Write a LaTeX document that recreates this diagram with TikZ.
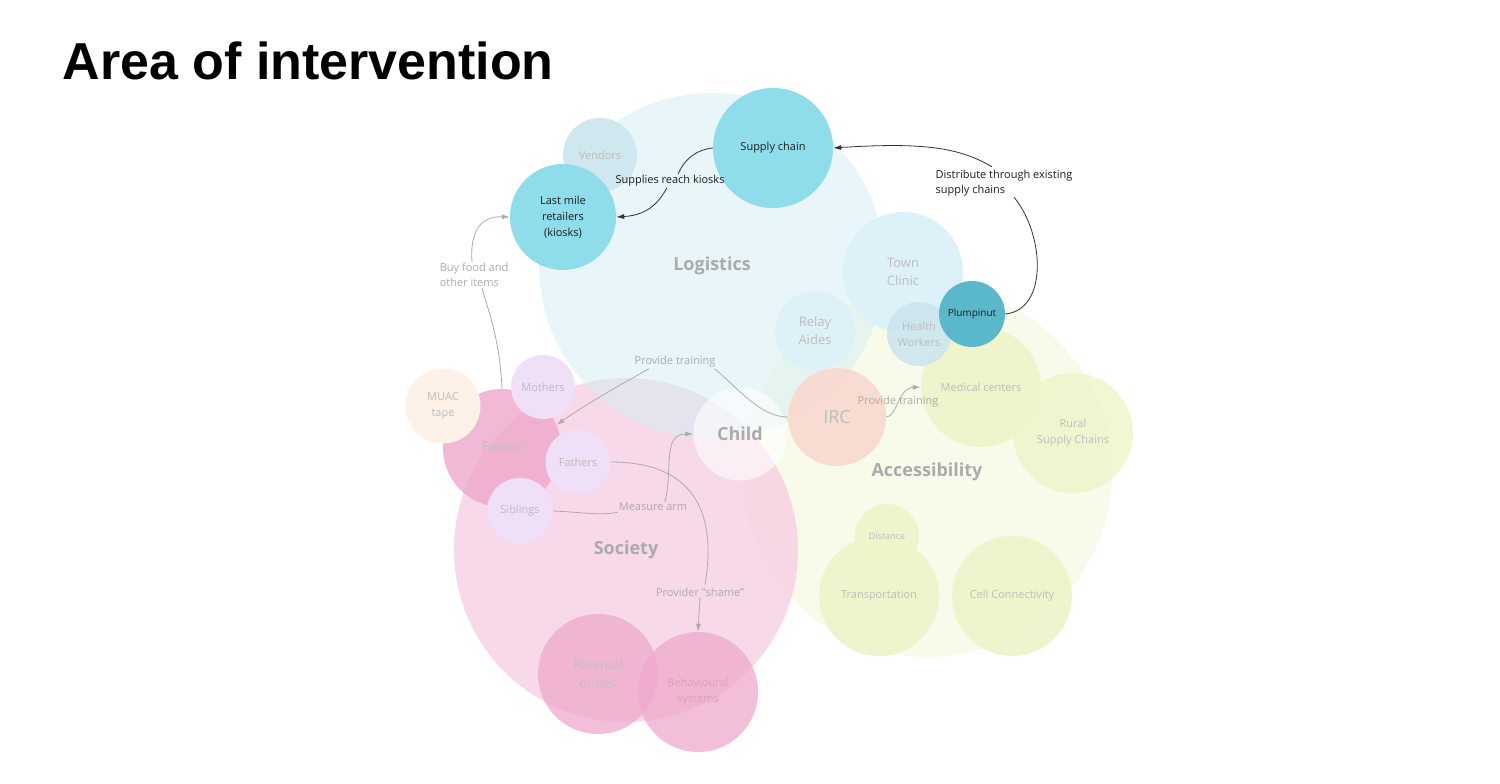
\documentclass[tikz,border=0pt]{standalone}
\usepackage{fontspec}
\setmainfont{Open Sans}
\newfontfamily\titlefont{Liberation Sans}
\usetikzlibrary{arrows.meta}
\definecolor{logfill}{HTML}{D3EFF5}
\definecolor{socfill}{HTML}{F5CDE2}
\definecolor{accfill}{HTML}{F9FBEA}
\definecolor{cyanc}{HTML}{8FDCEB}
\definecolor{vendc}{HTML}{CFE7EE}
\definecolor{palec}{HTML}{DCF2F8}
\definecolor{healthc}{HTML}{CDE6EE}
\definecolor{plumc}{HTML}{5BB7CA}
\definecolor{lavc}{HTML}{EFDFF7}
\definecolor{muacc}{HTML}{FDF1E8}
\definecolor{famc}{HTML}{EFA8CC}
\definecolor{ircc}{HTML}{F9D9CF}
\definecolor{greenc}{HTML}{EDF5C9}
\definecolor{pinkc}{HTML}{EFA9CD}
\definecolor{fadetext}{HTML}{BDBDBD}
\definecolor{bigtext}{HTML}{ABABAB}
\definecolor{labtext}{HTML}{ABABAB}
\definecolor{darktext}{HTML}{1E1E1E}
\definecolor{darkline}{HTML}{333333}
\definecolor{faintline}{HTML}{ACACAC}
\begin{document}
\begin{tikzpicture}[x=1pt,y=-1pt,
  bub/.style={circle, inner sep=0pt, align=center, font=\fontsize{11}{16}\selectfont, text=fadetext},
  big/.style={bub, font=\bfseries\fontsize{18}{22}\selectfont, text=bigtext},
  lab/.style={inner sep=1pt, align=left, font=\fontsize{11}{15}\selectfont, text=labtext},
  darklab/.style={lab, text=darktext},
  dark/.style={draw=darkline, line width=0.8pt},
  faint/.style={draw=faintline, line width=0.8pt},
  tip/.style={-{Latex[length=8pt,width=5pt]}}
]
\useasboundingbox[fill=white] (0,0) rectangle (1500,784);
\node[anchor=base west, font=\titlefont\bfseries\fontsize{52}{60}\selectfont] (title) at (59,80) {Area of intervention};

% big areas
\node[big, minimum size=370, fill=accfill] (acc) at (927,472) {Accessibility};
\node[big, minimum size=344, fill=socfill, fill opacity=0.75, text opacity=1] (soc) at (626,550) {Society};
\node[big, minimum size=346, fill=logfill, fill opacity=0.5, text opacity=1] (log) at (712,266) {Logistics};

% logistics
\node[bub, minimum size=74, fill=vendc] (vend) at (600,155) {Vendors};
\node[bub, minimum size=106, fill=cyanc, text=darktext] (lm) at (563,217) {Last mile\\retailers\\(kiosks)};
\node[bub, minimum size=120, fill=cyanc, text=darktext] (sc) at (773,148) {Supply chain};
\node[bub, minimum size=120, fill=palec, font=\fontsize{13}{18}\selectfont] (town) at (903,272) {Town\\Clinic};
\node[bub, minimum size=80, fill=palec, fill opacity=0.85, text opacity=1, font=\fontsize{13}{18}\selectfont] (relay) at (815,331) {Relay\\Aides};

% accessibility
\node[bub, minimum size=120, fill=greenc, fill opacity=0.9, text opacity=1] (med) at (981,387) {Medical centers};
\node[bub, minimum size=120, fill=greenc, fill opacity=0.8, text opacity=1] (rural) at (1073,433) {Rural\\Supply Chains};
\node[bub, minimum size=120, fill=greenc, fill opacity=0.9, text opacity=1] (trans) at (879,596) {Transportation};
\node[bub, minimum size=64, fill=greenc, fill opacity=0.85, text opacity=1, font=\fontsize{9}{11}\selectfont] (dist) at (887,536) {Distance};
\node[bub, minimum size=120, fill=greenc, fill opacity=0.9, text opacity=1] (cell) at (1012,596) {Cell Connectivity};

\node[bub, minimum size=64, fill=healthc, fill opacity=0.95, text opacity=1] (hw) at (919,334) {Health\\Workers};
\node[bub, minimum size=66, fill=plumc, text=darktext, font=\fontsize{10}{12}\selectfont] (pl) at (972,314) {Plumpinut};

% society
\node[bub, minimum size=118, fill=famc, fill opacity=0.8, text opacity=1, font=\fontsize{13}{18}\selectfont, text=fadetext!90!pink] (fam) at (502,448) {Family};
\node[bub, minimum size=75, fill=muacc] (muac) at (443,406) {MUAC\\tape};
\node[bub, minimum size=64, fill=lavc] (moth) at (543,387) {Mothers};
\node[bub, minimum size=65, fill=lavc] (fa) at (578,462) {Fathers};
\node[bub, minimum size=66, fill=lavc] (sib) at (520,511) {Siblings};
\node[bub, minimum size=120, fill=pinkc, fill opacity=0.75, text opacity=1, font=\fontsize{13}{18}\selectfont, text=fadetext!80!pink] (par) at (598,674) {Parental\\duties};
\node[bub, minimum size=120, fill=pinkc, fill opacity=0.75, text opacity=1, text=pinkc!80!gray] (beh) at (698,692) {Behavioural\\systems};

% center
\node[big, minimum size=93, fill=white, fill opacity=0.6, text opacity=1] (child) at (740,434) {Child};
\node[bub, minimum size=98, fill=ircc, fill opacity=0.9, text opacity=1, font=\fontsize{18}{22}\selectfont] (irc) at (837,417) {IRC};

% labels
\node[darklab] (srk) at (670,181) {Supplies reach kiosks};
\node[darklab] (distl) at (1004,183) {Distribute through existing\\supply chains};
\node[lab] (bf) at (474,275) {Buy food and\\other items};
\node[lab] (pt1) at (675,362) {Provide training};
\node[lab] (pt2) at (898,402) {Provide training};
\node[lab] (ma) at (653,507) {Measure arm};
\node[lab] (ps) at (700,592) {Provider "shame"};

% connectors
\draw[dark] (sc.west) .. controls (695,150) and (684,160) .. ([xshift=8pt]srk.north);
\draw[dark,tip] ([xshift=-3pt]srk.south) .. controls (660,200) and (650,215) .. (lm.east);
\draw[dark] (pl.east) .. controls (1048,310) and (1045,235) .. ([xshift=10pt]distl.south);
\draw[dark,tip] ([xshift=-12pt,yshift=2pt]distl.north) .. controls (960,148) and (925,142) .. (sc.east);
\draw[faint] (fam.north) .. controls (500,340) and (488,310) .. ([xshift=8pt]bf.south);
\draw[faint,tip] ([xshift=-2pt]bf.north) .. controls (470,235) and (478,216) .. (lm.west);
\draw[faint] (irc.west) .. controls (760,417) and (738,388) .. ([xshift=-2pt]pt1.south east);
\draw[faint,tip] ([xshift=-26pt]pt1.south) .. controls (620,385) and (585,405) .. (fam.23);
\draw[faint,tip] (irc.east) .. controls (897,417) and (898,388) .. (med.west);
\draw[faint] (sib.east) .. controls (580,512) and (600,516) .. (ma.south west);
\draw[faint,tip] ([xshift=12pt]ma.north) .. controls (673,470) and (662,434) .. (child.west);
\draw[faint] (fa.east) .. controls (700,462) and (716,520) .. ([xshift=5pt,yshift=2pt]ps.north);
\draw[faint,tip] (ps.south) -- (beh.north);
\end{tikzpicture}
\end{document}
